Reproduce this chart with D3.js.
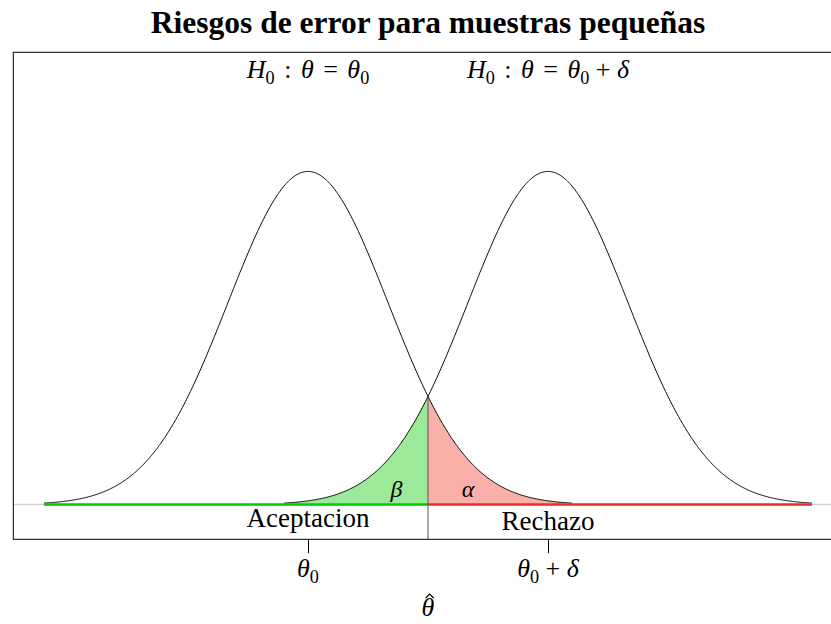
<!DOCTYPE html>
<html>
<head>
<meta charset="utf-8">
<script src="https://cdn.jsdelivr.net/npm/d3@7"></script>
<style>
  body { margin: 0; background: #fff; }
  text { font-family: "Liberation Serif", "Times New Roman", serif; fill: #000; }
</style>
</head>
<body>
<svg id="chart"></svg>
<script>
// parameters (theta0 = 0, delta = 3, sd = 1)
const centers = [0, 3];
const sigma = 1;
const halfRange = 3.3;
const cutoff = 1.5;
const tickValues = [0, 3];
const tickSuffix = ["", " + δ"];
const hypSuffix = ["", " + δ"];
const regionLabels = ["Aceptacion", "Rechazo"];
const errorLabels = ["β", "α"];

const W = 831, H = 624;
const svg = d3.select("#chart").attr("width", W).attr("height", H);

const x = d3.scaleLinear().domain([-3.684, 6.684]).range([13.3, 842.7]);
const y = d3.scaleLinear().domain([-0.0416, 0.5416]).range([539.3, 52.3]);

const dnorm = (v, m) => Math.exp(-0.5 * ((v - m) / sigma) ** 2) / (sigma * Math.sqrt(2 * Math.PI));

function sample(m, a, b) {
    const pts = d3.range(a, b, 0.01).map(v => [v, dnorm(v, m)]);
    pts.push([b, dnorm(b, m)]);
    return pts;
}

const line = d3.line().x(d => x(d[0])).y(d => y(d[1]));
const area = d3.area().x(d => x(d[0])).y0(y(0)).y1(d => y(d[1]));

// shaded error regions
svg.append("path")
    .attr("d", area(sample(centers[1], centers[1] - halfRange, cutoff)))
    .attr("fill", "#9de99a");
svg.append("path")
    .attr("d", area(sample(centers[0], cutoff, centers[0] + halfRange)))
    .attr("fill", "#f8b0a8");

// baseline
svg.append("line")
    .attr("x1", x.range()[0]).attr("x2", x.range()[1])
    .attr("y1", y(0)).attr("y2", y(0))
    .attr("stroke", "#d3d3d3").attr("stroke-width", 1.5);

// density curves
centers.forEach(m => {
    svg.append("path")
        .attr("d", line(sample(m, m - halfRange, m + halfRange)))
        .attr("fill", "none")
        .attr("stroke", "#000")
        .attr("stroke-width", 1);
});

// acceptance / rejection segments
svg.append("line")
    .attr("x1", x(centers[0] - halfRange)).attr("x2", x(cutoff))
    .attr("y1", y(0)).attr("y2", y(0))
    .attr("stroke", "#00cd00").attr("stroke-width", 2.5);
svg.append("line")
    .attr("x1", x(cutoff)).attr("x2", x(centers[1] + halfRange))
    .attr("y1", y(0)).attr("y2", y(0))
    .attr("stroke", "#ee2c2c").attr("stroke-width", 2.5);

// cutoff line
svg.append("line")
    .attr("x1", x(cutoff)).attr("x2", x(cutoff))
    .attr("y1", y(dnorm(cutoff, centers[0]))).attr("y2", y(-0.0416))
    .attr("stroke", "#555").attr("stroke-width", 1);

// box
svg.append("rect")
    .attr("x", x.range()[0]).attr("y", y.range()[1])
    .attr("width", x.range()[1] - x.range()[0])
    .attr("height", y.range()[0] - y.range()[1])
    .attr("fill", "none").attr("stroke", "#000").attr("stroke-width", 1);

// axis
const axis = svg.append("g")
    .attr("transform", `translate(0,${y.range()[0]})`)
    .call(d3.axisBottom(x).tickValues(tickValues).tickSize(14).tickFormat(""));
axis.select(".domain").remove();
axis.selectAll(".tick line").attr("stroke", "#000");

// theta_0 style label with subscript
function mathLabel(g, pre, suffix, size) {
    const t = g.append("text").attr("font-size", size).attr("text-anchor", "middle");
    const gap = pre ? 3 : 0;
    if (pre) {
        t.append("tspan").attr("font-style", "italic").text("H");
        t.append("tspan").attr("font-size", size * 0.7).attr("dy", size * 0.22).text("0");
        t.append("tspan").attr("dy", -size * 0.22).attr("dx", gap).text(" : ");
        t.append("tspan").attr("font-style", "italic").attr("dx", gap).text("θ");
        t.append("tspan").attr("dx", gap).text(" = ");
        t.append("tspan").attr("font-style", "italic").attr("dx", gap).text("θ");
    } else {
        t.append("tspan").attr("font-style", "italic").text("θ");
    }
    t.append("tspan").attr("font-size", size * 0.7).attr("dy", size * 0.22).text("0");
    if (suffix) {
        const parts = suffix.split("δ");
        t.append("tspan").attr("dy", -size * 0.22).text(parts[0]);
        t.append("tspan").attr("font-style", "italic").text("δ");
    }
    return t;
}

tickValues.forEach((v, i) => {
    mathLabel(svg, false, tickSuffix[i], 26)
        .attr("x", x(v)).attr("y", 577);
});

centers.forEach((m, i) => {
    mathLabel(svg, true, hypSuffix[i], 26)
        .attr("x", x(m)).attr("y", 78);
});

// region labels
regionLabels.forEach((lab, i) => {
    svg.append("text")
        .attr("x", x(centers[i])).attr("y", i === 0 ? 527 : 530)
        .attr("text-anchor", "middle").attr("font-size", 27)
        .text(lab);
});

// error labels
svg.append("text")
    .attr("x", x(1.106)).attr("y", 497)
    .attr("text-anchor", "middle").attr("font-size", 24).attr("font-style", "italic")
    .text(errorLabels[0]);
svg.append("text")
    .attr("x", x(2.0)).attr("y", 497)
    .attr("text-anchor", "middle").attr("font-size", 24).attr("font-style", "italic")
    .text(errorLabels[1]);

// x label (theta hat): glyph plus a drawn circumflex accent
const cx = (x.range()[0] + x.range()[1]) / 2;
const xlab = svg.append("text")
    .attr("x", cx).attr("y", 616)
    .attr("text-anchor", "middle").attr("font-size", 26).attr("font-style", "italic")
    .text("θ");
const bb = xlab.node().getBBox();
const hx = bb.x + bb.width / 2 + 1.5, hy = bb.y + 2;
svg.append("path")
    .attr("d", `M${hx - 4},${hy + 3}L${hx},${hy - 1}L${hx + 4},${hy + 3}`)
    .attr("fill", "none").attr("stroke", "#000").attr("stroke-width", 1.2);

// title
svg.append("text")
    .attr("x", cx).attr("y", 33)
    .attr("text-anchor", "middle").attr("font-size", 31.5).attr("font-weight", "bold")
    .text("Riesgos de error para muestras pequeñas");
</script>
</body>
</html>
